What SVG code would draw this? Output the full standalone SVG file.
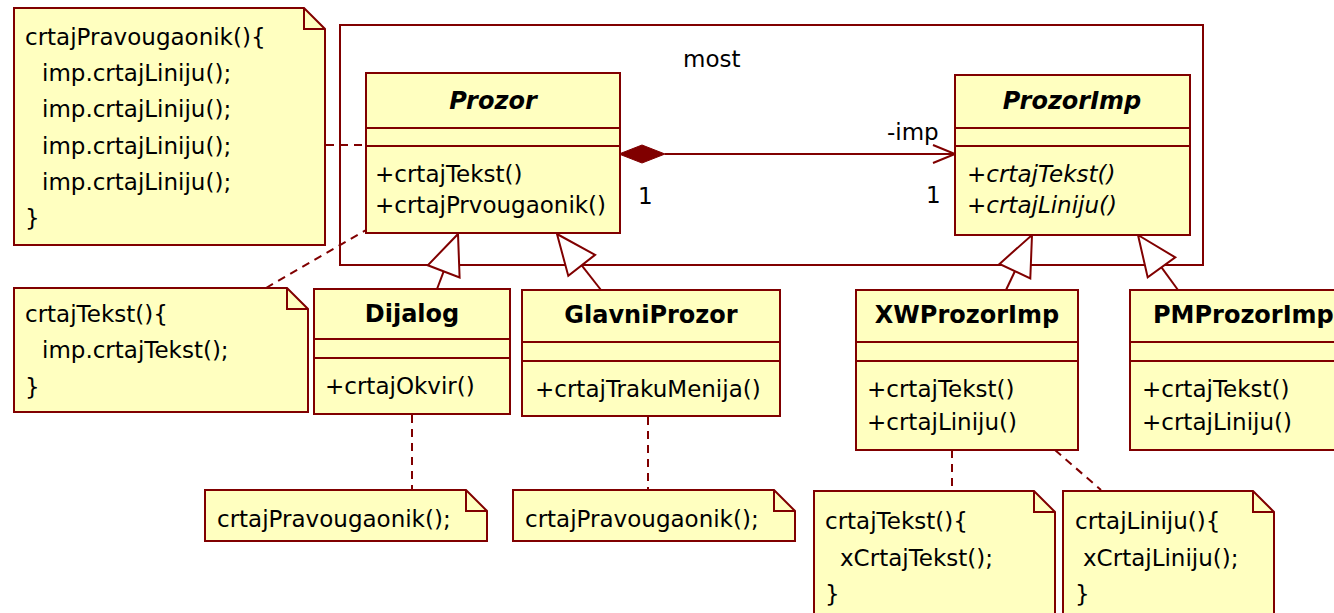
<svg xmlns="http://www.w3.org/2000/svg" width="1334" height="613" viewBox="0 0 1334 613">
<style>
.box{fill:#ffffc0;stroke:#800000;stroke-width:2}
.ln{stroke:#800000;stroke-width:2;fill:none}
.dash{stroke:#800000;stroke-width:2;fill:none;stroke-dasharray:8,6}
.tri{fill:#ffffff;stroke:#800000;stroke-width:2}
.t{font-family:"DejaVu Sans",Verdana,sans-serif;font-size:23px;fill:#000}
.b{font-weight:bold;font-size:24px}
.i{font-style:italic}
.c{text-anchor:middle}
</style>
<rect x="0" y="0" width="1334" height="613" fill="#ffffff"/>

<g id="package-most">
  <rect x="340" y="25" width="863" height="240" class="ln"/>
  <text x="683" y="67" class="t">most</text>
</g>

<g id="connectors">
  <!-- association -->
  <line x1="665" y1="154" x2="955" y2="154" class="ln"/>
  <polygon points="619,154 642,145 665,154 642,163" fill="#800000" stroke="#800000" stroke-width="1"/>
  <polyline points="933,145 955,154 933,163" class="ln"/>
  <text x="887" y="140" class="t">-imp</text>
  <text x="638" y="204" class="t">1</text>
  <text x="926" y="203" class="t">1</text>
  <!-- generalizations -->
  <line x1="437" y1="289" x2="443.7" y2="271.4" class="ln"/>
  <polygon points="458,234 459.6,277.5 427.8,265.3" class="tri"/>
  <line x1="601" y1="290" x2="581.7" y2="265.4" class="ln"/>
  <polygon points="557,234 595.1,254.9 568.3,275.9" class="tri"/>
  <line x1="1006" y1="290" x2="1014.9" y2="271.2" class="ln"/>
  <polygon points="1032,235 1030.3,278.5 999.5,263.9" class="tri"/>
  <line x1="1178" y1="290" x2="1161.5" y2="267.4" class="ln"/>
  <polygon points="1138,235 1175.3,257.4 1147.7,277.4" class="tri"/>
  <!-- note anchors -->
  <line x1="326" y1="145" x2="366" y2="145" class="dash"/>
  <line x1="266" y1="288" x2="366" y2="230" class="dash"/>
  <line x1="412" y1="415" x2="412" y2="490" class="dash"/>
  <line x1="648" y1="417" x2="648" y2="490" class="dash"/>
  <line x1="952" y1="450" x2="952" y2="490" class="dash"/>
  <line x1="1055" y1="450" x2="1101" y2="490" class="dash"/>
</g>

<g id="note-prozor">
  <path d="M14,8 H304 L325,29 V245 H14 Z" class="box"/>
  <path d="M304,8 V29 H325" class="ln"/>
  <text x="25" y="45" class="t">crtajPravougaonik(){</text>
  <text x="42" y="81" class="t">imp.crtajLiniju();</text>
  <text x="42" y="117" class="t">imp.crtajLiniju();</text>
  <text x="42" y="154" class="t">imp.crtajLiniju();</text>
  <text x="42" y="190" class="t">imp.crtajLiniju();</text>
  <text x="25" y="226" class="t">}</text>
</g>

<g id="class-prozor">
  <rect x="366" y="73" width="254" height="160" class="box"/>
  <line x1="366" y1="128" x2="620" y2="128" class="ln"/>
  <line x1="366" y1="146" x2="620" y2="146" class="ln"/>
  <text x="493" y="109" class="t b i c">Prozor</text>
  <text x="375" y="182" class="t">+crtajTekst()</text>
  <text x="375" y="213" class="t">+crtajPrvougaonik()</text>
</g>

<g id="class-prozorimp">
  <rect x="955" y="75" width="235" height="160" class="box"/>
  <line x1="955" y1="128" x2="1190" y2="128" class="ln"/>
  <line x1="955" y1="146" x2="1190" y2="146" class="ln"/>
  <text x="1072" y="109" class="t b i c">ProzorImp</text>
  <text x="967" y="182" class="t i">+crtajTekst()</text>
  <text x="967" y="213" class="t i">+crtajLiniju()</text>
</g>

<g id="note-tekst">
  <path d="M14,288 H287 L308,309 V412 H14 Z" class="box"/>
  <path d="M287,288 V309 H308" class="ln"/>
  <text x="25" y="322" class="t">crtajTekst(){</text>
  <text x="42" y="358" class="t">imp.crtajTekst();</text>
  <text x="25" y="395" class="t">}</text>
</g>

<g id="class-dijalog">
  <rect x="314" y="289" width="196" height="125" class="box"/>
  <line x1="314" y1="339" x2="510" y2="339" class="ln"/>
  <line x1="314" y1="358" x2="510" y2="358" class="ln"/>
  <text x="412" y="322" class="t b c">Dijalog</text>
  <text x="325" y="394" class="t">+crtajOkvir()</text>
</g>

<g id="class-glavniprozor">
  <rect x="522" y="290" width="258" height="126" class="box"/>
  <line x1="522" y1="342" x2="780" y2="342" class="ln"/>
  <line x1="522" y1="361" x2="780" y2="361" class="ln"/>
  <text x="651" y="323" class="t b c">GlavniProzor</text>
  <text x="535" y="397" class="t">+crtajTrakuMenija()</text>
</g>

<g id="class-xwprozorimp">
  <rect x="856" y="290" width="222" height="160" class="box"/>
  <line x1="856" y1="342" x2="1078" y2="342" class="ln"/>
  <line x1="856" y1="361" x2="1078" y2="361" class="ln"/>
  <text x="967" y="323" class="t b c">XWProzorImp</text>
  <text x="867" y="397" class="t">+crtajTekst()</text>
  <text x="867" y="430" class="t">+crtajLiniju()</text>
</g>

<g id="class-pmprozorimp">
  <rect x="1130" y="290" width="240" height="160" class="box"/>
  <line x1="1130" y1="342" x2="1370" y2="342" class="ln"/>
  <line x1="1130" y1="361" x2="1370" y2="361" class="ln"/>
  <text x="1153" y="323" class="t b">PMProzorImp</text>
  <text x="1142" y="397" class="t">+crtajTekst()</text>
  <text x="1142" y="430" class="t">+crtajLiniju()</text>
</g>

<g id="note-dijalog">
  <path d="M205,490 H466 L487,511 V541 H205 Z" class="box"/>
  <path d="M466,490 V511 H487" class="ln"/>
  <text x="217" y="527" class="t">crtajPravougaonik();</text>
</g>

<g id="note-glavniprozor">
  <path d="M513,490 H774 L795,511 V541 H513 Z" class="box"/>
  <path d="M774,490 V511 H795" class="ln"/>
  <text x="525" y="527" class="t">crtajPravougaonik();</text>
</g>

<g id="note-xwtekst">
  <path d="M814,491 H1034 L1055,512 V625 H814 Z" class="box"/>
  <path d="M1034,491 V512 H1055" class="ln"/>
  <text x="825" y="529" class="t">crtajTekst(){</text>
  <text x="840" y="566" class="t">xCrtajTekst();</text>
  <text x="825" y="602" class="t">}</text>
</g>

<g id="note-xwlinija">
  <path d="M1063,491 H1253 L1274,512 V625 H1063 Z" class="box"/>
  <path d="M1253,491 V512 H1274" class="ln"/>
  <text x="1075" y="529" class="t">crtajLiniju(){</text>
  <text x="1083" y="566" class="t">xCrtajLiniju();</text>
  <text x="1075" y="602" class="t">}</text>
</g>
</svg>
